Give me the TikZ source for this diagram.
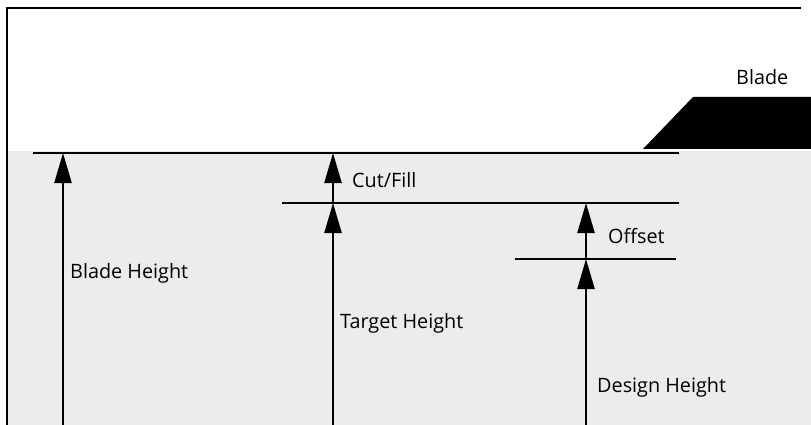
\documentclass[tikz,border=0pt]{standalone}
\usepackage{fontspec}
\setmainfont{Open Sans}
\usetikzlibrary{arrows.meta,positioning}
\definecolor{groundgray}{HTML}{ECECEC}

\begin{document}
\begin{tikzpicture}[
    x=1pt,y=-1pt,
    level/.style={line width=2.4pt},
    dim/.style={line width=2.4pt,-{Triangle[length=30pt,width=17pt]}},
    every node/.style={font=\fontsize{19.8}{23}\selectfont,inner sep=0pt,anchor=west}
]
\useasboundingbox (0,0) rectangle (811,425);
% ground and frame
\fill[groundgray] (8,151) rectangle (811,425);
\draw[line width=2.4pt] (7,425) -- (7,8) -- (801,8);
% blade
\fill (643,149) -- (693,97) -- (811,97) -- (811,149) -- cycle;
\node (blade) at (736,77) {Blade};
% height levels
\coordinate (bladeL) at (33,153);  \coordinate (bladeR) at (679,153);
\coordinate (targetL) at (282,203); \coordinate (targetR) at (679,203);
\coordinate (designL) at (515,259); \coordinate (designR) at (676,259);
\draw[level] (bladeL) -- (bladeR);
\draw[level] (targetL) -- (targetR);
\draw[level] (designL) -- (designR);
% dimension arrows
\coordinate (b0) at (63,425);
\coordinate (b1) at (63,153);
\coordinate (t0) at (333,425);
\coordinate (t1) at (333,203);
\coordinate (t2) at (333,153);
\coordinate (d0) at (586,425);
\coordinate (d1) at (586,259);
\coordinate (d2) at (586,203);
\draw[dim] (b0) -- (b1);
\draw[dim] (t0) -- (t1);
\draw[dim] (t1) -- (t2);
\draw[dim] (d0) -- (d1);
\draw[dim] (d1) -- (d2);
% labels
\node (bladeheight) at (70,273) {Blade Height};
\node (cutfill) at (352,180) {Cut/Fill};
\node (offset) at (608,236) {Offset};
\node (targetheight) at (340,323) {Target Height};
\node (designheight) at (597,387) {Design Height};
\end{tikzpicture}
\end{document}
